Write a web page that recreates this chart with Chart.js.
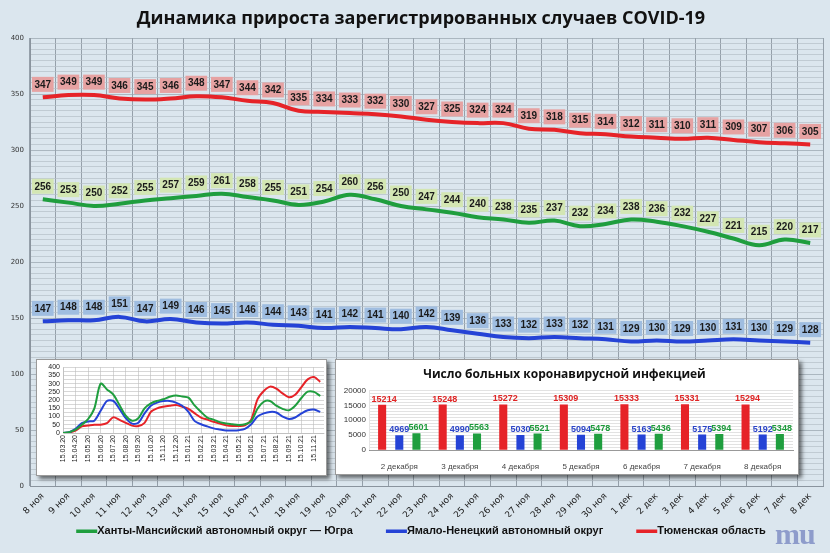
<!DOCTYPE html>
<html>
<head>
<meta charset="utf-8">
<script src="https://cdn.jsdelivr.net/npm/chart.js@4.4.1/dist/chart.umd.min.js"></script>
<style>
  html, body { margin: 0; padding: 0; background: #dbe6ee; }
  #wrap { position: relative; width: 830px; height: 553px; overflow: hidden; }
  canvas { display: block; }
  .inset { position: absolute; background: #fff; border: 1px solid #9a9a9a; box-shadow: 3px 3px 4px rgba(0,0,0,0.55); }
  #logo { position: absolute; left: 775px; top: 517px; font: bold 30px "Liberation Serif"; color: #8e9ccb; letter-spacing: -1px; }
</style>
</head>
<body>
<div id="wrap">
  <canvas id="main" width="830" height="553"></canvas>
  <div class="inset" style="left:36px;top:359px;width:289px;height:115px">
    <canvas id="history" width="289" height="115"></canvas>
  </div>
  <div class="inset" style="left:335px;top:359px;width:462px;height:114px">
    <canvas id="patients" width="462" height="114"></canvas>
  </div>
  <div id="logo">mu</div>
</div>
<script>
// main chart: daily increase, 8 Nov - 8 Dec
const days = ['8 ноя', '9 ноя', '10 ноя', '11 ноя', '12 ноя', '13 ноя', '14 ноя', '15 ноя', '16 ноя', '17 ноя',
  '18 ноя', '19 ноя', '20 ноя', '21 ноя', '22 ноя', '23 ноя', '24 ноя', '25 ноя', '26 ноя', '27 ноя', '28 ноя',
  '29 ноя', '30 ноя', '1 дек', '2 дек', '3 дек', '4 дек', '5 дек', '6 дек', '7 дек', '8 дек'];
const yugra = [256, 253, 250, 252, 255, 257, 259, 261, 258, 255, 251, 254, 260, 256, 250, 247, 244, 240, 238, 235,
  237, 232, 234, 238, 236, 232, 227, 221, 215, 220, 217];
const yamal = [147, 148, 148, 151, 147, 149, 146, 145, 146, 144, 143, 141, 142, 141, 140, 142, 139, 136, 133, 132,
  133, 132, 131, 129, 130, 129, 130, 131, 130, 129, 128];
const tyumen = [347, 349, 349, 346, 345, 346, 348, 347, 344, 342, 335, 334, 333, 332, 330, 327, 325, 324, 324, 319,
  318, 315, 314, 312, 311, 310, 311, 309, 307, 306, 305];

// small inset: whole epidemic, one value per half month from 15.03.20
const histTicks = ['15.03.20', '15.04.20', '15.05.20', '15.06.20', '15.07.20', '15.08.20', '15.09.20', '15.10.20',
  '15.11.20', '15.12.20', '15.01.21', '15.02.21', '15.03.21', '15.04.21', '15.05.21', '15.06.21', '15.07.21',
  '15.08.21', '15.09.21', '15.10.21', '15.11.21'];
const histYugra = [0, 5, 20, 50, 85, 150, 300, 265, 235, 170, 105, 75, 90, 150, 180, 195, 205, 220, 228, 222,
  215, 166, 128, 94, 81, 66, 58, 53, 49, 53, 72, 147, 190, 195, 166, 147, 138, 166, 213, 251, 250, 225];
const histYamal = [0, 5, 25, 60, 70, 75, 135, 195, 195, 147, 90, 57, 62, 119, 166, 185, 194, 195, 185, 166,
  128, 72, 53, 40, 28, 21, 15, 15, 17, 25, 53, 100, 119, 128, 125, 100, 85, 94, 119, 138, 143, 128];
const histTyumen = [0, 3, 15, 40, 45, 50, 50, 60, 95, 80, 62, 45, 43, 62, 128, 150, 160, 166, 170, 160,
  147, 119, 94, 81, 68, 57, 47, 43, 43, 47, 81, 204, 255, 282, 270, 241, 217, 232, 279, 326, 340, 311];

// bar inset: number of patients
const barDays = ['2 декабря', '3 декабря', '4 декабря', '5 декабря', '6 декабря', '7 декабря', '8 декабря'];
const sickTyumen = [15214, 15248, 15272, 15309, 15333, 15331, 15294];
const sickYamal = [4969, 4990, 5030, 5094, 5163, 5175, 5192];
const sickYugra = [5601, 5563, 5521, 5478, 5436, 5394, 5348];

const GREEN = '#1f9e3e', BLUE = '#2543d6', RED = '#e62328';
const TITLE = 'Динамика прироста зарегистрированных случаев COVID-19';

const bgPlugin = {
  id: 'bg',
  beforeDraw(chart) {
    const ctx = chart.ctx;
    ctx.save();
    ctx.fillStyle = '#dbe6ee';
    ctx.fillRect(0, 0, chart.width, chart.height);
    ctx.restore();
  }
};

// title and bottom legend of the main chart (legend items sit closer than chart.js allows)
const frame = {
  id: 'frame',
  afterDraw(chart) {
    const ctx = chart.ctx;
    ctx.save();
    ctx.fillStyle = '#111';
    ctx.textBaseline = 'middle';
    ctx.textAlign = 'center';
    ctx.font = 'bold 18px "Open Sans"';
    ctx.fillText(TITLE, 421, 19);

    ctx.font = 'bold 11px "Liberation Sans"';
    ctx.textAlign = 'left';
    const mark = 21, gap = 33;
    const items = chart.data.datasets.map(d => ({ text: d.label, color: d.borderColor, w: ctx.measureText(d.label).width }));
    const total = items.reduce((s, it) => s + mark + it.w, 0) + gap * (items.length - 1);
    let x = 421 - total / 2;
    const y = 531;
    items.forEach(it => {
      ctx.fillStyle = it.color;
      ctx.fillRect(x, y - 1.5, mark, 3.5);
      ctx.fillStyle = '#111';
      ctx.fillText(it.text, x + mark, y);
      x += mark + it.w + gap;
    });
    ctx.restore();
  }
};

// value boxes above the points of the main chart
const boxLabels = {
  id: 'boxLabels',
  afterDatasetsDraw(chart) {
    const ctx = chart.ctx;
    ctx.save();
    ctx.font = 'bold 10px "Liberation Sans"';
    ctx.textAlign = 'center';
    ctx.textBaseline = 'middle';
    chart.data.datasets.forEach((ds, i) => {
      chart.getDatasetMeta(i).data.forEach((pt, j) => {
        const t = String(ds.data[j]);
        const w = ctx.measureText(t).width + 5, h = 15;
        const y = pt.y - 13;
        ctx.fillStyle = ds.labelBg;
        ctx.fillRect(pt.x - w / 2, y - h / 2, w, h);
        ctx.fillStyle = '#1a1a1a';
        ctx.fillText(t, pt.x, y + 0.5);
      });
    });
    ctx.restore();
  }
};

// coloured numbers above the bars
const barValues = {
  id: 'barValues',
  afterDatasetsDraw(chart) {
    const ctx = chart.ctx;
    ctx.save();
    ctx.font = 'bold 9px "Liberation Sans"';
    ctx.textAlign = 'center';
    ctx.textBaseline = 'bottom';
    chart.data.datasets.forEach((ds, i) => {
      ctx.fillStyle = ds.valueColor;
      chart.getDatasetMeta(i).data.forEach((bar, j) => {
        ctx.fillText(String(ds.data[j]), bar.x + ds.shift, bar.y - 1);
      });
    });
    ctx.restore();
  }
};

new Chart(document.getElementById('main'), {
  type: 'line',
  data: {
    labels: days,
    datasets: [
      { label: 'Ханты-Мансийский автономный округ — Югра', data: yugra, borderColor: GREEN, labelBg: '#d3e6b3' },
      { label: 'Ямало-Ненецкий автономный округ', data: yamal, borderColor: BLUE, labelBg: '#9fbde0' },
      { label: 'Тюменская область', data: tyumen, borderColor: RED, labelBg: '#e6a2a2' }
    ]
  },
  options: {
    responsive: false,
    animation: false,
    layout: { padding: { left: 0, right: 7, top: 38, bottom: 36 } },
    elements: { line: { borderWidth: 4, tension: 0.4 }, point: { radius: 0 } },
    scales: {
      x: {
        offset: true,
        grid: { offset: true, color: '#95a0aa', drawTicks: false },
        border: { color: '#8a949e' },
        ticks: { minRotation: 45, maxRotation: 45, autoSkip: false, padding: 5,
          font: { family: 'DejaVu Sans', size: 9 }, color: '#222' },
        afterFit(s) { s.height = 31; }
      },
      y: {
        min: 0, max: 400,
        ticks: { stepSize: 5, autoSkip: false, padding: 6, callback: v => v % 50 === 0 ? v : '',
          font: { family: 'DejaVu Sans', size: 7 }, color: '#333' },
        grid: { color: c => c.tick.value % 50 === 0 ? '#97a2ac' : '#b4bec7', lineWidth: 0.7, drawTicks: false },
        border: { color: '#8a949e' },
        afterFit(s) { s.width = 30; }
      }
    },
    plugins: { legend: { display: false }, tooltip: { enabled: false } }
  },
  plugins: [bgPlugin, boxLabels, frame]
});

const toPoints = arr => arr.map((v, i) => ({ x: i / 2, y: v }));

new Chart(document.getElementById('history'), {
  type: 'line',
  data: {
    datasets: [
      { data: toPoints(histYugra), borderColor: GREEN },
      { data: toPoints(histYamal), borderColor: BLUE },
      { data: toPoints(histTyumen), borderColor: RED }
    ]
  },
  options: {
    responsive: false,
    animation: false,
    layout: { padding: { top: 3, right: 2 } },
    elements: { line: { borderWidth: 2, tension: 0.3 }, point: { radius: 0 } },
    scales: {
      x: {
        type: 'linear', min: 0, max: 20.8,
        ticks: { stepSize: 1, includeBounds: false, autoSkip: false, minRotation: 90, maxRotation: 90, padding: 2,
          callback: v => histTicks[v] ?? '', font: { family: 'Liberation Sans', size: 7 }, color: '#222' },
        grid: { color: '#bcbcbc', lineWidth: 0.6, drawTicks: false },
        afterFit(s) { s.height = 42; }
      },
      y: {
        min: 0, max: 400,
        ticks: { stepSize: 25, autoSkip: false, padding: 3, callback: v => v % 50 === 0 ? v : '',
          font: { family: 'Liberation Sans', size: 7 }, color: '#222' },
        grid: { color: '#bcbcbc', lineWidth: 0.6, drawTicks: false },
        afterFit(s) { s.width = 26; }
      }
    },
    plugins: { legend: { display: false }, tooltip: { enabled: false } }
  }
});

new Chart(document.getElementById('patients'), {
  type: 'bar',
  data: {
    labels: barDays,
    datasets: [
      { data: sickTyumen, backgroundColor: RED, valueColor: '#e02424', shift: 2 },
      { data: sickYamal, backgroundColor: BLUE, valueColor: '#2a44c8', shift: 0 },
      { data: sickYugra, backgroundColor: GREEN, valueColor: '#1c9a3a', shift: 2 }
    ]
  },
  options: {
    responsive: false,
    animation: false,
    layout: { padding: { right: 5 } },
    datasets: { bar: { barPercentage: 0.47, categoryPercentage: 0.85 } },
    scales: {
      x: {
        grid: { display: false },
        border: { color: '#999' },
        ticks: { font: { family: 'Liberation Sans', size: 8 }, color: '#444', padding: 4 },
        afterFit(s) { s.height = 24; }
      },
      y: {
        min: 0, max: 20000,
        ticks: { stepSize: 1000, autoSkip: false, padding: 3, callback: v => v % 5000 === 0 ? v : '',
          font: { family: 'Liberation Sans', size: 8 }, color: '#333' },
        grid: { color: '#cfcfcf', lineWidth: 0.6, drawTicks: false },
        afterFit(s) { s.width = 33; }
      }
    },
    plugins: {
      title: { display: true, text: 'Число больных коронавирусной инфекцией',
        font: { family: 'Open Sans', size: 12, weight: 'bold' }, color: '#111', padding: { top: 7, bottom: 9 } },
      legend: { display: false },
      tooltip: { enabled: false }
    }
  },
  plugins: [barValues]
});
</script>
</body>
</html>
